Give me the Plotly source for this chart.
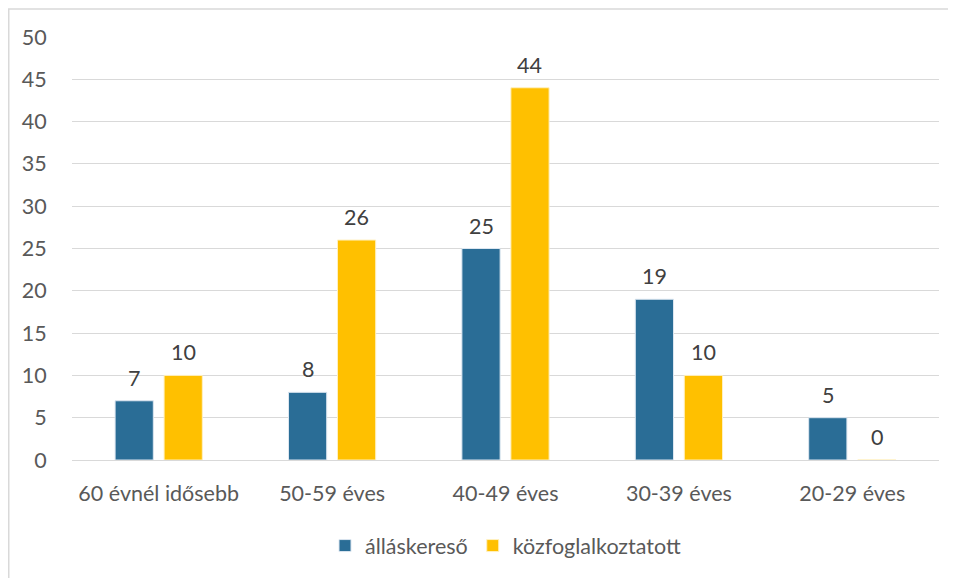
import plotly.graph_objects as go

categories = ["60 évnél idősebb", "50-59 éves", "40-49 éves", "30-39 éves", "20-29 éves"]
allaskereso = [7, 8, 25, 19, 5]
kozfoglalkoztatott = [10, 26, 44, 10, 0]
y_ticks = [0, 5, 10, 15, 20, 25, 30, 35, 40, 45, 50]

FONT = "Lato, Calibri, Carlito, sans-serif"
TXT = "#595959"
FS = 21.5

fig = go.Figure()
fig.add_trace(go.Bar(
    name="álláskereső", x=categories, y=allaskereso,
    marker=dict(color="#2A6D96", line=dict(color="#DCE6F0", width=1)),
))
fig.add_trace(go.Bar(
    name="közfoglalkoztatott", x=categories, y=kozfoglalkoztatott,
    marker=dict(color="#FFC000", line=dict(color="#FFF0C0", width=1)),
))

# page body has an 8px margin, so the figure starts at (8, 8)
OFF = 8
W, H = 956 - OFF, 578 - OFF
L, R, T, B = 72 - OFF, 17, 37 - OFF, 116
pw, ph = W - L - R, H - T - B

# data labels as annotations, placed on the grouped bars via data coordinates
slot_shift = pw / len(categories) * (1 - 0.435) / 4
annotations = []
for series, shift in ((allaskereso, -slot_shift), (kozfoglalkoztatott, slot_shift)):
    for c, v in zip(categories, series):
        annotations.append(dict(x=c, y=v, xref="x", yref="y", text=str(v), showarrow=False,
                                xshift=shift, yshift=8, yanchor="bottom",
                                font=dict(size=FS, color="#404040", family=FONT)))

fig.update_layout(
    width=W, height=H,
    margin=dict(l=L, r=R, t=T, b=B, pad=0),
    paper_bgcolor="white", plot_bgcolor="white",
    barmode="group", bargap=0.435, bargroupgap=0.22,
    font=dict(family=FONT, size=FS, color=TXT),
    showlegend=True,
    legend=dict(orientation="h", x=0.5, xanchor="center", y=-86 / ph, yanchor="middle",
                font=dict(size=FS, color=TXT, family=FONT), itemwidth=30,
                traceorder="normal"),
    xaxis=dict(showgrid=False, showline=False, zeroline=False,
               ticks="outside", ticklen=14, tickcolor="rgba(0,0,0,0)",
               tickfont=dict(size=FS, color=TXT, family=FONT)),
    yaxis=dict(range=[0, 50], tickvals=y_ticks, showgrid=True, gridcolor="#D9D9D9",
               gridwidth=1, zeroline=True, zerolinecolor="#D9D9D9", zerolinewidth=1,
               showline=False, ticks="outside", ticklen=20, tickcolor="rgba(0,0,0,0)",
               tickfont=dict(size=FS, color=TXT, family=FONT)),
    annotations=annotations,
    shapes=[dict(type="rect", xref="paper", yref="paper",
                 x0=(0.75 - L) / pw, x1=(W + 20 - L) / pw,
                 y0=-(B + 20) / ph, y1=(ph + T - 0.75) / ph,
                 line=dict(color="#D9D9D9", width=1.5), layer="below")],
)

fig.write_html("out.html")
